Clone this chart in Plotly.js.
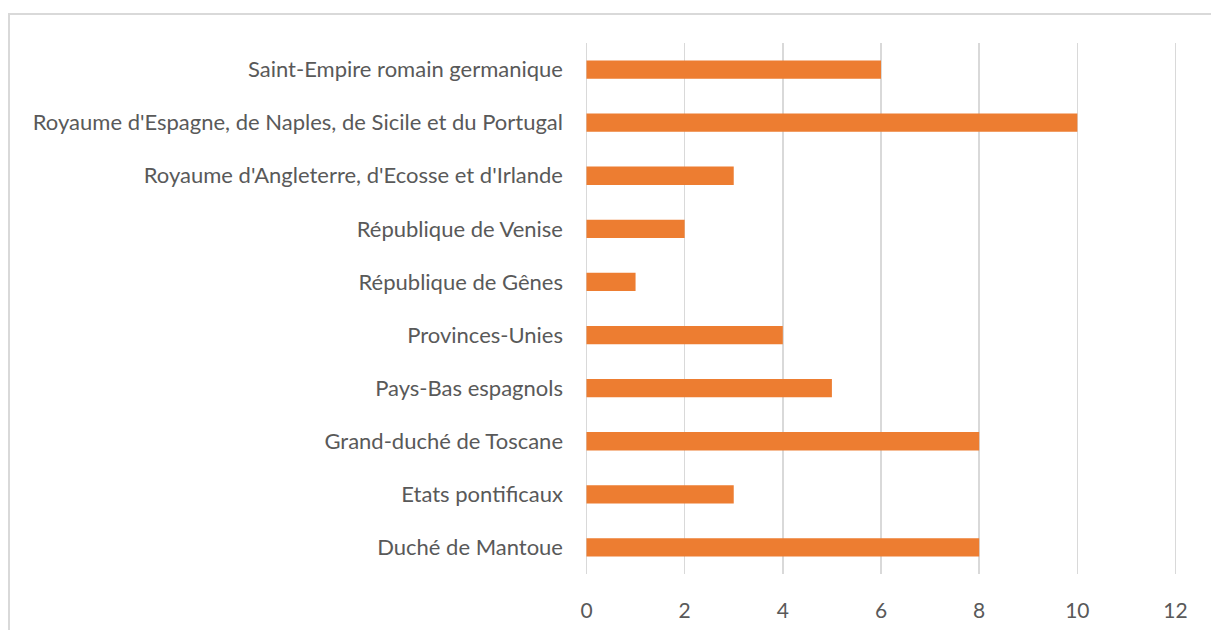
<!DOCTYPE html>
<html>
<head>
<meta charset="utf-8">
<script src="https://cdn.plot.ly/plotly-3.0.1.min.js"></script>
<style>
html,body{margin:0;padding:0;background:#fff;}
#frame{position:absolute;left:8px;top:13px;width:1210px;height:640px;border:2px solid #d9d9d9;box-sizing:border-box;}
#chart{position:absolute;left:0;top:0;width:1211px;height:630px;}
</style>
</head>
<body>
<div id="frame"></div>
<div id="chart"></div>
<script>
const categories = [
  "Duché de Mantoue",
  "Etats pontificaux",
  "Grand-duché de Toscane",
  "Pays-Bas espagnols",
  "Provinces-Unies",
  "République de Gênes",
  "République de Venise",
  "Royaume d'Angleterre, d'Ecosse et d'Irlande",
  "Royaume d'Espagne, de Naples, de Sicile et du Portugal",
  "Saint-Empire romain germanique"
];
const values = [8, 3, 8, 5, 4, 1, 2, 3, 10, 6];
const xTicks = [0, 2, 4, 6, 8, 10, 12];

const data = [{
  type: "bar",
  orientation: "h",
  y: categories,
  x: values,
  marker: {color: "#ED7D31"},
  hoverinfo: "x+y"
}];

const layout = {
  width: 1211,
  height: 630,
  autosize: false,
  margin: {l: 585.2, r: 34.2, t: 43, b: 56, pad: 0},
  paper_bgcolor: "rgba(0,0,0,0)",
  plot_bgcolor: "rgba(0,0,0,0)",
  showlegend: false,
  bargap: 0.655,
  font: {family: "Lato, 'Open Sans', sans-serif", size: 20, color: "#595959"},
  xaxis: {
    range: [-0.03, 12.03],
    tickvals: xTicks,
    ticktext: xTicks.map(String),
    showgrid: true,
    gridcolor: "#d9d9d9",
    gridwidth: 1.5,
    zeroline: false,
    showline: false,
    ticks: "",
    ticklabelstandoff: 22,
    tickfont: {size: 21, color: "#595959"},
    fixedrange: true
  },
  yaxis: {
    type: "category",
    categoryorder: "array",
    categoryarray: categories,
    showgrid: false,
    zeroline: false,
    showline: false,
    ticks: "",
    ticklabelstandoff: 21,
    tickfont: {size: 22, color: "#595959"},
    fixedrange: true
  }
};

Plotly.newPlot("chart", data, layout, {displayModeBar: false, staticPlot: true});
</script>
</body>
</html>
